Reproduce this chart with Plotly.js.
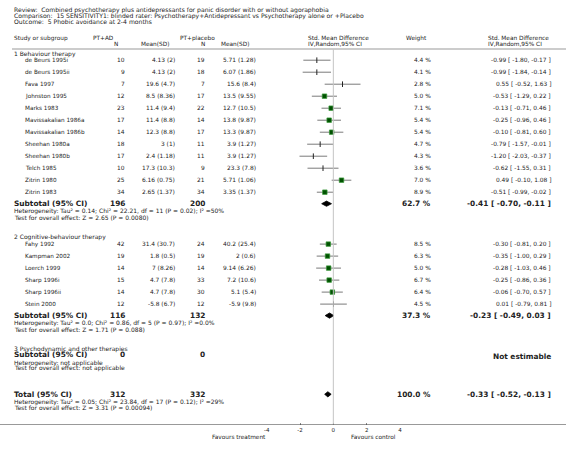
<!DOCTYPE html>
<html><head><meta charset="utf-8">
<script src="https://cdn.plot.ly/plotly-3.0.1.min.js"></script>
<style>html,body{margin:0;padding:0;background:#fff;}#chart{width:566px;height:455px;}</style>
</head><body><div id="chart"></div>
<script>
// ---------- DATA ----------
const titleLines = [
  "Review:\u00a0 Combined psychotherapy plus antidepressants for panic disorder with or without agoraphobia",
  "Comparison:\u00a0 15 SENSITIVITY1: blinded rater: Psychotherapy+Antidepressant vs Psychotherapy alone or +Placebo",
  "Outcome:\u00a0 5 Phobic avoidance at 2-4 months"
];
const groupNames = ["1 Behaviour therapy", "2 Cognitive-behaviour therapy", "3 Psychodynamic and other therapies"];

// Group 1
const g1Studies = ["de Beurs 1995i","de Beurs 1995ii","Fava 1997","Johnston 1995","Marks 1983","Mavissakalian 1986a","Mavissakalian 1986b","Sheehan 1980a","Sheehan 1980b","Telch 1985","Zitrin 1980","Zitrin 1983"];
const g1N1 = [10,9,7,12,23,17,14,18,17,10,25,34];
const g1Mean1 = [4.13,4.13,19.6,8.5,11.4,11.4,12.3,3,2.4,17.3,6.16,2.65];
const g1SD1 = [2,2,4.7,8.36,9.4,8.8,8.8,1,1.18,10.3,0.75,1.37];
const g1N2 = [19,18,7,17,22,14,17,11,11,9,21,34];
const g1Mean2 = [5.71,6.07,15.6,13.5,12.7,13.8,13.3,3.9,3.9,23.3,5.71,3.35];
const g1SD2 = [1.28,1.86,8.4,9.55,10.5,9.87,9.87,1.27,1.27,7.8,1.06,1.37];
const g1Weight = [4.4,4.1,2.8,5.0,7.1,5.4,5.4,4.7,4.3,3.6,7.0,8.9];
const g1Est = [-0.99,-0.99,0.55,-0.53,-0.13,-0.25,-0.10,-0.79,-1.20,-0.62,0.49,-0.51];
const g1Lo = [-1.80,-1.84,-0.52,-1.29,-0.71,-0.96,-0.81,-1.57,-2.03,-1.55,-0.10,-0.99];
const g1Hi = [-0.17,-0.14,1.63,0.22,0.46,0.46,0.60,-0.01,-0.37,0.31,1.08,-0.02];

// Group 2
const g2Studies = ["Fahy 1992","Kampman 2002","Loerch 1999","Sharp 1996i","Sharp 1996ii","Stein 2000"];
const g2N1 = [42,19,14,15,14,12];
const g2Mean1 = [31.4,1.8,7,4.7,4.7,-5.8];
const g2SD1 = [30.7,0.5,8.26,7.8,7.8,6.7];
const g2N2 = [24,19,14,33,30,12];
const g2Mean2 = [40.2,2,9.14,7.2,5.1,-5.9];
const g2SD2 = [25.4,0.6,6.26,10.6,5.4,9.8];
const g2Weight = [8.5,6.3,5.0,6.7,6.4,4.5];
const g2Est = [-0.30,-0.35,-0.28,-0.25,-0.06,0.01];
const g2Lo = [-0.81,-1.00,-1.03,-0.86,-0.70,-0.79];
const g2Hi = [0.20,0.29,0.46,0.36,0.57,0.81];

// Subtotals [group1, group2, group3] and total
const subN1 = [196,116,0];
const subN2 = [200,132,0];
const subWeight = [62.7,37.3,null];
const subEst = [-0.41,-0.23,null];
const subLo = [-0.70,-0.49,null];
const subHi = [-0.11,0.03,null];
const subHet = [
  "Heterogeneity: Tau\u00b2 = 0.14; Chi\u00b2 = 22.21, df = 11 (P = 0.02); I\u00b2 =50%",
  "Heterogeneity: Tau\u00b2 = 0.0; Chi\u00b2 = 0.86, df = 5 (P = 0.97); I\u00b2 =0.0%",
  "Heterogeneity: not applicable"
];
const subTest = [
  "Test for overall effect: Z = 2.65 (P = 0.0080)",
  "Test for overall effect: Z = 1.71 (P = 0.088)",
  "Test for overall effect: not applicable"
];
const totN1 = 312, totN2 = 332, totWeight = 100.0;
const totEst = -0.33, totLo = -0.52, totHi = -0.13;
const totHet = "Heterogeneity: Tau\u00b2 = 0.05; Chi\u00b2 = 23.84, df = 17 (P = 0.12); I\u00b2 =29%";
const totTest = "Test for overall effect: Z = 3.31 (P = 0.00094)";
const tickVals = [-4,-2,0,2,4];
const tickLabels = ["-4","-2","0","2","4"];
const favLeft = "Favours treatment", favRight = "Favours control";

// ---------- LAYOUT HELPERS ----------
const W = 566, H = 455;
const AXIS_Y = 425;
const FONT = "DejaVu Sans, Verdana, sans-serif";
const TXT = "#222";
const TITLE = 6.1, HEAD = 5.8, NAME = 5.7, GROUP = 6.0, STAT = 6.0, NUM = 5.9, BOLD = 7.4;
const annotations = [];
function ann(text, x, y, anchor, size, bold) {
  annotations.push({
    text: bold ? "<b>" + text + "</b>" : text,
    x: x / W, y: 1 - y / H, xref: "paper", yref: "paper",
    xanchor: anchor, yanchor: "middle", showarrow: false, borderpad: 0,
    font: {family: FONT, size: size, color: TXT}
  });
}
const COL = {label: 13, study: 24, n1: 126, m1: 176, n2: 206, m2: 257, w: 432, ci: 552};
function fmtCI(e, l, h) { return e.toFixed(2) + " [ " + l.toFixed(2) + ", " + h.toFixed(2) + " ]"; }

// header
titleLines.forEach((t, i) => ann(t, 13, 10 + i * 5.7, "left", TITLE));
ann("Study or subgroup", 13, 38, "left", HEAD);
ann("PT+AD", 103, 38, "center", HEAD);
ann("N", 116, 44.2, "center", HEAD);
ann("Mean(SD)", 155, 44.2, "center", HEAD);
ann("PT+placebo", 197, 38, "center", HEAD);
ann("N", 203, 44.2, "center", HEAD);
ann("Mean(SD)", 235, 44.2, "center", HEAD);
ann("Std. Mean Difference", 306.5, 38, "left", HEAD);
ann("IV,Random,95% CI", 306.5, 44.2, "left", HEAD);
ann("Weight", 405, 38, "left", HEAD);
ann("Std. Mean Difference", 487, 38, "left", HEAD);
ann("IV,Random,95% CI", 487, 44.2, "left", HEAD);

// traces data collectors
const ciX = [], ciY = [];
const sqX = [], sqY = [];
const tkX = [], tkY = [];
const dmX = [], dmY = [];
function diamond(e, l, h, y) {
  dmX.push(l, e, h, e, l, null);
  dmY.push(y, y - 2.6, y, y + 2.6, y, null);
}

const groups = [
  {s: g1Studies, n1: g1N1, m1: g1Mean1, sd1: g1SD1, n2: g1N2, m2: g1Mean2, sd2: g1SD2, w: g1Weight, e: g1Est, l: g1Lo, h: g1Hi},
  {s: g2Studies, n1: g2N1, m1: g2Mean1, sd1: g2SD1, n2: g2N2, m2: g2Mean2, sd2: g2SD2, w: g2Weight, e: g2Est, l: g2Lo, h: g2Hi},
  {s: [], n1: [], m1: [], sd1: [], n2: [], m2: [], sd2: [], w: [], e: [], l: [], h: []}
];

let y = 53.5;
const STEP = 12;
groups.forEach((g, gi) => {
  ann(groupNames[gi], COL.label, y, "left", GROUP);
  let subY;
  if (g.s.length) {
    let ry = y + 6.7;
    g.s.forEach((name, i) => {
      ann(name, COL.study, ry, "left", NAME);
      ann(String(g.n1[i]), COL.n1, ry, "right", NUM);
      ann(g.m1[i] + " (" + g.sd1[i] + ")", COL.m1, ry, "right", NUM);
      ann(String(g.n2[i]), COL.n2, ry, "right", NUM);
      ann(g.m2[i] + " (" + g.sd2[i] + ")", COL.m2, ry, "right", NUM);
      ann(g.w[i].toFixed(1) + " %", COL.w, ry, "right", NUM);
      ann(fmtCI(g.e[i], g.l[i], g.h[i]), COL.ci, ry, "right", NUM);
      ciX.push(g.l[i], g.h[i], null); ciY.push(ry, ry, null);
      if (g.w[i] >= 5.0) { sqX.push(g.e[i]); sqY.push(ry); }
      else { tkX.push(g.e[i]); tkY.push(ry); }
      ry += STEP;
    });
    subY = ry - 0.5;
  } else {
    subY = y + 5.6;
  }
  ann("Subtotal (95% CI)", COL.label, subY, "left", BOLD, true);
  ann(String(subN1[gi]), COL.n1, subY, "right", BOLD, true);
  ann(String(subN2[gi]), COL.n2, subY, "right", BOLD, true);
  if (subEst[gi] !== null) {
    ann(subWeight[gi].toFixed(1) + " %", COL.w, subY, "right", BOLD, true);
    ann(fmtCI(subEst[gi], subLo[gi], subHi[gi]), COL.ci, subY, "right", BOLD, true);
    diamond(subEst[gi], subLo[gi], subHi[gi], subY);
  } else {
    ann("Not estimable", COL.ci, subY + 1.5, "right", BOLD, true);
  }
  ann(subHet[gi], COL.label, subY + 7.6, "left", STAT);
  ann(subTest[gi], COL.label, subY + 13.4, "left", STAT);
  y = subY + 13.4 + 20.3;
});
const totY = y - 20.3 + 26;
ann("Total (95% CI)", COL.label, totY, "left", BOLD, true);
ann(String(totN1), COL.n1, totY, "right", BOLD, true);
ann(String(totN2), COL.n2, totY, "right", BOLD, true);
ann(totWeight.toFixed(1) + " %", COL.w, totY, "right", BOLD, true);
ann(fmtCI(totEst, totLo, totHi), COL.ci, totY, "right", BOLD, true);
diamond(totEst, totLo, totHi, totY);
ann(totHet, COL.label, totY + 7.4, "left", STAT);
ann(totTest, COL.label, totY + 13.1, "left", STAT);

ann(favLeft, 267, 436.5, "right", HEAD);
ann(favRight, 350, 436.5, "left", HEAD);

const traces = [
  {x: ciX, y: ciY, mode: "lines", line: {color: "#7a7a7a", width: 1}, hoverinfo: "skip", cliponaxis: false},
  {x: tkX, y: tkY, mode: "markers", marker: {symbol: "line-ns-open", size: 4, color: "#222", line: {color: "#222", width: 1}}, hoverinfo: "skip", cliponaxis: false},
  {x: sqX, y: sqY, mode: "markers", marker: {symbol: "square", size: 4.5, color: "#005200", line: {color: "#3a9a3a", width: 0.7}}, hoverinfo: "skip", cliponaxis: false},
  {x: dmX, y: dmY, mode: "lines", fill: "toself", fillcolor: "#000", line: {color: "#000", width: 0.8}, hoverinfo: "skip", cliponaxis: false}
];

const layout = {
  width: W, height: H,
  margin: {l: 0, r: 0, t: 0, b: 0, pad: 0},
  paper_bgcolor: "#fff", plot_bgcolor: "rgba(0,0,0,0)",
  showlegend: false,
  font: {family: FONT, color: TXT},
  xaxis: {
    domain: [266.67 / W, 400 / W], range: [-4, 4], autorange: false,
    tickmode: "array", tickvals: tickVals, ticktext: tickLabels,
    ticks: "inside", ticklen: 2, tickcolor: "#888", tickwidth: 1,
    tickfont: {family: FONT, size: 5.5, color: TXT},
    showgrid: false, zeroline: false, showline: false, fixedrange: true
  },
  yaxis: {domain: [(H - AXIS_Y) / H, 1], range: [AXIS_Y, 0], autorange: false, visible: false, fixedrange: true},
  shapes: [
    {type: "line", xref: "paper", yref: "y", x0: 12 / W, x1: 1, y0: 49, y1: 49, line: {color: "#999", width: 1}},
    {type: "line", xref: "x", yref: "y", x0: 0, x1: 0, y0: 49, y1: AXIS_Y, line: {color: "#c4c4c4", width: 1}},
    {type: "line", xref: "paper", yref: "y", x0: 0, x1: 1, y0: AXIS_Y, y1: AXIS_Y, line: {color: "#333", width: 1}}
  ],
  annotations: annotations
};
Plotly.newPlot("chart", traces, layout, {staticPlot: true, displayModeBar: false});
</script></body></html>
